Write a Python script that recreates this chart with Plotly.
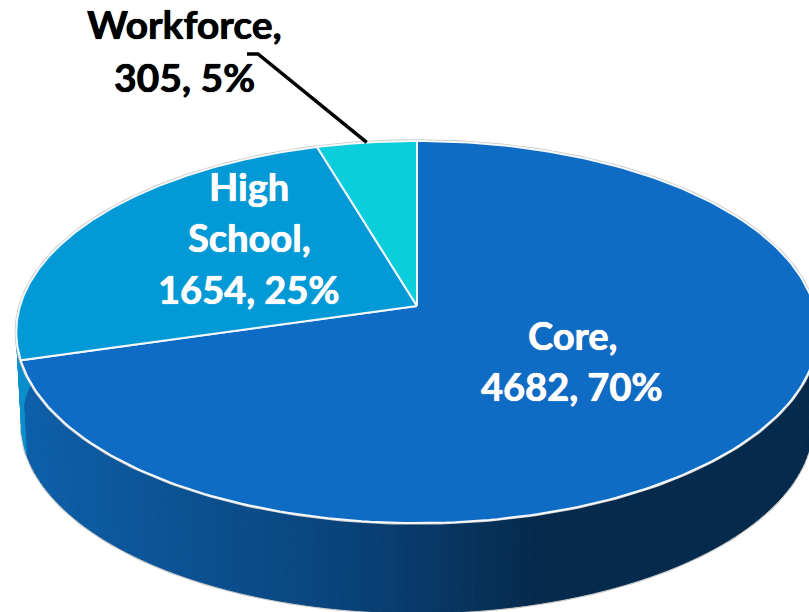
import numpy as np
import plotly.graph_objects as go

categories = ["Core", "High School", "Workforce"]
values = [4682, 1654, 305]
percents = [70, 25, 5]
slice_colors = ["#0F6CC4", "#029AD6", "#0ACEDB"]
label_colors = ["white", "white", "black"]

W, H = 809, 612
CX, CY, RX, RY, PERSP = 417.0, 306.0, 397.0, 187.5, 0.136
DEPTH, BOTTOM_SCALE = 92.5, 0.987


def project(theta, scale=1.0, dy=0.0, r=1.0):
    """Clockwise angle from 12 o'clock (radians) on the tilted disc -> plot coordinates."""
    X = r * np.sin(theta)
    Y = r * np.cos(theta)
    d = 1 + PERSP * Y
    return CX + scale * RX * X / d, CY + dy - scale * RY * Y / d


fractions = np.array(values, dtype=float) / sum(values)
edges = np.concatenate([[0.0], np.cumsum(fractions)]) * 2 * np.pi

fig = go.Figure()


def add_poly(xs, ys, fill, line=None, width=1.0):
    fig.add_trace(go.Scatter(
        x=xs, y=ys, mode="lines", fill="toself", fillcolor=fill,
        line=dict(color=line or fill, width=width),
        hoverinfo="skip", showlegend=False))


# Side wall: thin strips following the rim, shaded by horizontal position
def wall_colour(x):
    r = np.interp(x, [20, 300, 420, 540, 809], [13, 10, 8, 5, 5])
    g = np.interp(x, [20, 300, 420, 540, 809], [96, 72, 58, 42, 42])
    b = np.interp(x, [20, 300, 420, 540, 809], [170, 130, 105, 76, 76])
    return f"rgb({r:.0f},{g:.0f},{b:.0f})"


wall_start, wall_end = np.radians(65), np.radians(295)
steps = np.linspace(wall_start, wall_end, 161)

# outer gray rim of the wall
bx, by = project(steps, BOTTOM_SCALE, DEPTH)
fig.add_trace(go.Scatter(x=bx, y=by, mode="lines", line=dict(color="#C8C8C8", width=3.5),
                         hoverinfo="skip", showlegend=False))
for a, b in zip(steps[:-1], steps[1:]):
    t = np.array([a, b])
    x1, y1 = project(t)
    x2, y2 = project(t[::-1], BOTTOM_SCALE, DEPTH)
    xs = np.concatenate([x1, x2, x1[:1]])
    ys = np.concatenate([y1, y2, y1[:1]])
    colour = "#0A8FCC" if (a + b) / 2 > edges[1] else wall_colour(xs.mean())
    add_poly(xs, ys, colour)

# Top face
full = np.linspace(0, 2 * np.pi, 361)
rx, ry = project(full)
fig.add_trace(go.Scatter(x=rx, y=ry, mode="lines", line=dict(color="#C8C8C8", width=3.5),
                         hoverinfo="skip", showlegend=False))
for i in range(len(values)):
    t = np.linspace(edges[i], edges[i + 1], 240)
    x, y = project(t)
    add_poly(np.concatenate([[CX], x, [CX]]), np.concatenate([[CY], y, [CY]]),
             slice_colors[i], line="#F4F8FC", width=2)

# Leader line of the smallest slice
mid = (edges[2] + edges[3]) / 2
lx, ly = project(mid)
fig.add_trace(go.Scatter(x=[247, 258, float(lx)], y=[54, 54, float(ly)], mode="lines",
                         line=dict(color="black", width=3.5), hoverinfo="skip", showlegend=False))

# Labels: each line placed on its own for the wide line pitch
label_lines = [
    [f"{categories[0]},", f"{values[0]}, {percents[0]}%"],
    ["High", "School,", f"{values[1]}, {percents[1]}%"],
    [f"{categories[2]},", f"{values[2]}, {percents[2]}%"],
]
label_anchor = [(572, 360.5), (249, 237), (184, 50)]
line_pitch = [51, 51.5, 53]
label_sizes = [38, 38, 39]
for lines, (ax, ay), pitch, col, fs in zip(label_lines, label_anchor, line_pitch, label_colors, label_sizes):
    n = len(lines)
    for k, text in enumerate(lines):
        fig.add_annotation(x=ax, y=ay + (k - (n - 1) / 2) * pitch, text=f"<b>{text}</b>",
                           showarrow=False, xanchor="center", yanchor="middle",
                           font=dict(family="Lato", size=fs, color=col,
                                     shadow=f"0 0 1px {col}, 0.3px 0 0 {col}"))

fig.update_layout(
    width=W, height=H, margin=dict(l=0, r=0, t=0, b=0),
    paper_bgcolor="white", plot_bgcolor="white", showlegend=False,
    xaxis=dict(range=[0, W], visible=False, fixedrange=True),
    yaxis=dict(range=[H, 0], visible=False, fixedrange=True),
)
fig.write_html("out.html", config={"displayModeBar": False},
               post_script="document.body.style.margin='0';document.body.style.overflow='hidden';")
